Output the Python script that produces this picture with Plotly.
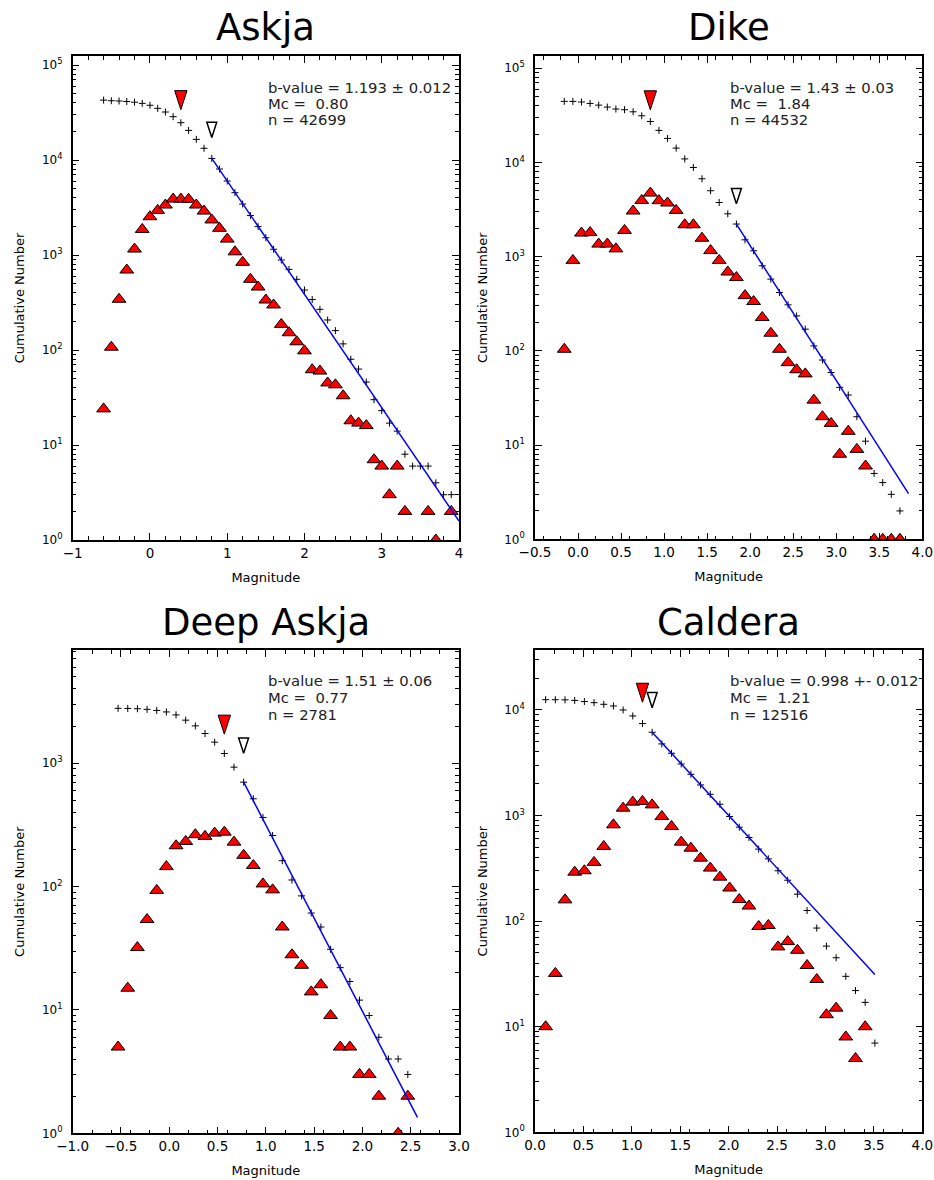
import plotly.graph_objects as go

W, H = 934, 1180

# ---------------- Askja ----------------
askja_mag = [-0.6, -0.5, -0.4, -0.3, -0.2, -0.1, 0.0, 0.1, 0.2, 0.3, 0.4, 0.5, 0.6, 0.7, 0.8, 0.9,
             1.0, 1.1, 1.2, 1.3, 1.4, 1.5, 1.6, 1.7, 1.8, 1.9, 2.0, 2.1, 2.2, 2.3, 2.4, 2.5, 2.6,
             2.7, 2.8, 2.9, 3.0, 3.1, 3.2, 3.3, 3.4, 3.5, 3.6, 3.7, 3.8, 3.9]
askja_cum = [42699, 42100, 41800, 41300, 40600, 39500, 37700, 35000, 32000, 28600, 24700, 20500,
             16500, 13300, 10400, 8040, 6010, 4530, 3440, 2600, 1990, 1520, 1150, 886, 706, 555,
             428, 340, 268, 207, 160, 116, 80, 63, 46, 30, 23, 17, 14, 8, 6, 6, 6, 4, 3, 3]
askja_noncum = [24, 107, 342, 695, 1155, 1860, 2530, 2950, 3360, 3880, 3880, 3860, 3360, 2900,
                2340, 1910, 1470, 1080, 838, 555, 460, 336, 298, 186, 152, 122, 98, 62, 60, 45,
                43, 33, 18, 17, 16, 7, 6, 3, 6, 2, None, None, 2, 1, None, 2]

# ---------------- Dike ----------------
dike_mag = [-0.16, -0.06, 0.04, 0.14, 0.24, 0.34, 0.44, 0.54, 0.64, 0.74, 0.84, 0.94, 1.04, 1.14,
            1.24, 1.34, 1.44, 1.54, 1.64, 1.74, 1.84, 1.94, 2.04, 2.14, 2.24, 2.34, 2.44, 2.54,
            2.64, 2.74, 2.84, 2.94, 3.04, 3.14, 3.24, 3.34, 3.44, 3.54, 3.64, 3.74]
dike_cum = [44532, 44460, 43800, 42300, 40600, 38700, 36900, 36300, 34500, 31300, 27200, 21900,
            18000, 14200, 10900, 8850, 6710, 5010, 3760, 2850, 2220, 1510, 1155, 800, 578, 416,
            308, 235, 170, 113, 80, 59, 41, 34, 20, 11, 5, 4, 3, 2]
dike_noncum = [104, 912, 1780, 1800, 1360, 1360, 1210, 1900, 3050, 3950, 4730, 3930, 3710, 3100,
               2180, 2180, 1570, 1160, 912, 687, 600, 386, 334, 226, 154, 104, 75, 63, 57, 30,
               20, 17, 8, 14, 9, 6, 1, 1, 1, 1]

# ---------------- Deep Askja ----------------
deep_mag = [-0.53, -0.43, -0.33, -0.23, -0.13, -0.03, 0.07, 0.17, 0.27, 0.37, 0.47, 0.57, 0.67,
            0.77, 0.87, 0.97, 1.07, 1.17, 1.27, 1.37, 1.47, 1.57, 1.67, 1.77, 1.87, 1.97, 2.07,
            2.17, 2.27, 2.37, 2.47]
deep_cum = [2781, 2776, 2761, 2729, 2675, 2600, 2460, 2230, 2005, 1738, 1479, 1197, 928, 701, 514,
            363, 259, 162, 113, 84, 61, 47, 31, 22, 17, 12, 9, 6, 4, 4, 3]
deep_noncum = [5, 15, 32, 54, 93, 145, 214, 232, 263, 255, 271, 276, 229, 179, 148, 105, 94, 47,
               28, 23, 14, 16, 9, 5, 5, 3, 3, 2, None, 1, 2]

# ---------------- Caldera ----------------
caldera_mag = [0.11, 0.21, 0.31, 0.41, 0.51, 0.61, 0.71, 0.81, 0.91, 1.01, 1.11, 1.21, 1.31, 1.41,
               1.51, 1.61, 1.71, 1.81, 1.91, 2.01, 2.11, 2.21, 2.31, 2.41, 2.51, 2.61, 2.71, 2.81,
               2.91, 3.01, 3.11, 3.21, 3.31, 3.41, 3.51]
caldera_cum = [12516, 12506, 12474, 12315, 12024, 11724, 11320, 10910, 10000, 8780, 7430, 6150,
               4770, 3890, 3080, 2460, 1950, 1590, 1280, 979, 776, 620, 481, 389, 300, 244, 180,
               126, 86, 58, 45, 30, 22, 17, 7]
caldera_noncum = [10, 32, 159, 291, 300, 360, 510, 817, 1175, 1340, 1360, 1262, 979, 788, 560, 491,
                  395, 318, 261, 206, 160, 139, 89, 91, 57, 64, 53, 38, 28, 13, 15, 8, 5, 10, None]

# ---------------- fit results / markers ----------------
titles = ["Askja", "Dike", "Deep Askja", "Caldera"]
b_values = [1.193, 1.43, 1.51, 0.998]
b_texts = ["1.193 ± 0.012", "1.43 ± 0.03", "1.51 ± 0.06", "0.998 +- 0.012"]
mc_values = [0.80, 1.84, 0.77, 1.21]
mc_texts = ["0.80", "1.84", "0.77", "1.21"]
n_values = [42699, 44532, 2781, 12516]
a_values = [4.972, 5.977, 4.009, 4.997]
mag_max = [4.0, 3.84, 2.57, 3.51]
maxc_mag = [0.4, 0.84, 0.57, 1.11]
maxc_marker_y = [33900, 36200, 1718, 11830]
mc_marker_y = [17300, 3650, 1205, 10500]

mags = [askja_mag, dike_mag, deep_mag, caldera_mag]
cums = [askja_cum, dike_cum, deep_cum, caldera_cum]
noncums = [askja_noncum, dike_noncum, deep_noncum, caldera_noncum]

# ---------------- layout geometry (pixels) ----------------
px_x = [(72.7, 459.0), (535.0, 922.3), (72.7, 459.0), (535.0, 922.3)]
px_y = [(56, 540), (56, 539.3), (650, 1133.3), (650, 1132.3)]
x_ranges = [[-1, 4], [-0.5, 4.0], [-1, 3], [0, 4]]
x_dticks = [1, 0.5, 0.5, 0.5]
x_formats = ["d", ".1f", ".1f", ".1f"]
y_ranges = [[0, 5.095], [0, 5.13], [0, 3.917], [0, 4.568]]
y_maxexp = [5, 5, 3, 4]

FONT = "DejaVu Sans"
fig = go.Figure()

for i in range(4):
    xa = "x" if i == 0 else f"x{i+1}"
    ya = "y" if i == 0 else f"y{i+1}"
    # cumulative (crosses)
    fig.add_trace(go.Scatter(
        x=mags[i], y=cums[i], mode="markers", xaxis=xa, yaxis=ya,
        marker=dict(symbol="cross-thin", size=5, line=dict(color="black", width=1))))
    # non-cumulative (red triangles)
    fig.add_trace(go.Scatter(
        x=mags[i], y=noncums[i], mode="markers", xaxis=xa, yaxis=ya,
        marker=dict(symbol="triangle-up", size=12, color="red",
                    line=dict(color="black", width=1))))
    # G-R fit line
    xs = [mc_values[i], mag_max[i]]
    ys = [10 ** (a_values[i] - b_values[i] * x) for x in xs]
    fig.add_trace(go.Scatter(x=xs, y=ys, mode="lines", xaxis=xa, yaxis=ya,
                             line=dict(color="blue", width=1.5)))
    # maximum-curvature marker (red, inverted)
    fig.add_trace(go.Scatter(
        x=[maxc_mag[i]], y=[maxc_marker_y[i]], mode="markers", xaxis=xa, yaxis=ya,
        marker=dict(symbol="arrow", angle=180, size=20, color="red",
                    line=dict(color="black", width=1))))
    # Mc marker (hollow, inverted)
    fig.add_trace(go.Scatter(
        x=[mc_values[i]], y=[mc_marker_y[i]], mode="markers", xaxis=xa, yaxis=ya,
        marker=dict(symbol="arrow", angle=180, size=16, color="white",
                    line=dict(color="black", width=1.5))))

layout = dict(
    width=W, height=H, margin=dict(l=0, r=0, t=0, b=0, autoexpand=False),
    paper_bgcolor="white", plot_bgcolor="white", showlegend=False,
    font=dict(family=FONT, color="black"),
)

annotations = []
for i in range(4):
    xk = "xaxis" if i == 0 else f"xaxis{i+1}"
    yk = "yaxis" if i == 0 else f"yaxis{i+1}"
    xa = "x" if i == 0 else f"x{i+1}"
    ya = "y" if i == 0 else f"y{i+1}"
    x0, x1 = px_x[i]
    yt, yb = px_y[i]
    layout[xk] = dict(
        domain=[x0 / W, x1 / W], range=x_ranges[i], anchor=ya, automargin=False,
        tickmode="linear", tick0=0, dtick=x_dticks[i], tickformat=x_formats[i],
        ticks="inside", ticklen=7, tickwidth=1, tickcolor="black",
        showline=True, linecolor="black", linewidth=1.5, mirror="allticks",
        showgrid=False, zeroline=False,
        minor=dict(ticks="inside", ticklen=4, tickwidth=1, tickcolor="black",
                   tickmode="linear", tick0=0, dtick=0.2, showgrid=False),
        tickfont=dict(size=13.5, family=FONT),
        title=dict(text="Magnitude", font=dict(size=13, family=FONT), standoff=13),
    )
    exps = list(range(0, y_maxexp[i] + 1))
    minor_vals = [m * 10 ** e for e in exps for m in range(2, 10)]
    layout[yk] = dict(
        domain=[1 - yb / H, 1 - yt / H], range=y_ranges[i], type="log", anchor=xa,
        automargin=False,
        tickmode="array", tickvals=[10 ** e for e in exps],
        ticktext=[f"10<sup>{e}</sup>" for e in exps],
        ticks="inside", ticklen=7, tickwidth=1, tickcolor="black",
        showline=True, linecolor="black", linewidth=1.5, mirror="allticks",
        showgrid=False, zeroline=False,
        minor=dict(ticks="inside", ticklen=4, tickwidth=1, tickcolor="black",
                   tickmode="array", tickvals=minor_vals, showgrid=False),
        tickfont=dict(size=12, family=FONT), ticklabelstandoff=6,
        title=dict(text="Cumulative Number", font=dict(size=13, family=FONT), standoff=14),
    )
    # panel title
    annotations.append(dict(
        text=titles[i], xref="paper", yref="paper",
        x=(x0 + x1) / 2 / W, y=1 - (yt - 28) / H, xanchor="center", yanchor="middle",
        showarrow=False, font=dict(size=37, family=FONT, color="black")))
    # statistics text (three lines)
    lines = [f"b-value = {b_texts[i]}", f"Mc =  {mc_texts[i]}", f"n = {n_values[i]}"]
    offsets = [31, 47.5, 64]
    for ln, off in zip(lines, offsets):
        annotations.append(dict(
            text=ln, xref="paper", yref="paper", align="left",
            x=(x0 + 0.502 * (x1 - x0)) / W, y=1 - (yt + off) / H,
            xanchor="left", yanchor="middle", showarrow=False, borderpad=0,
            font=dict(size=14.8, family=FONT, color="#222222")))

layout["annotations"] = annotations
fig.update_layout(**layout)
fig.write_html("out.html", config={"displayModeBar": False},
               post_script="document.body.style.margin='0';document.body.style.overflow='hidden';")
